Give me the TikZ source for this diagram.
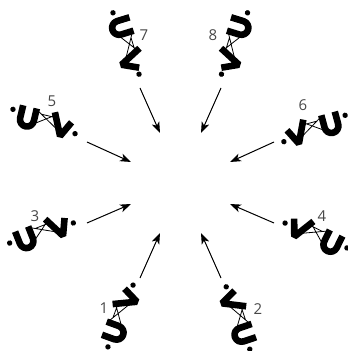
\documentclass[tikz,border=0pt]{standalone}
\usepackage{fontspec}
\setmainfont{Open Sans}
\usetikzlibrary{arrows.meta}
% #1: extra rotation of the letters about the glyph centre
\newcommand\drawglyph[1]{%
  \fill (-33,4.7) circle (2.7);
  \fill (33,-4.7) circle (2.7);
  \begin{scope}[rotate=#1]
    \draw[heavy] (-24,11) -- (-24,-2) arc[start angle=180,end angle=360,radius=7] -- (-10,11);
    \draw[thinline] (-10,10) -- (15,-5) (-10,-5) -- (10,9) (-4,6.5) -- (12,6.5);
    \draw[heavy] (8.5,11.5) -- (19,-10.5) -- (27,5.5);
  \end{scope}}
\begin{document}
\begin{tikzpicture}[x=1pt,y=1pt,
  heavy/.style={line width=6.6pt, line cap=butt, line join=bevel},
  thinline/.style={line width=0.8pt},
  arr/.style={line width=1pt, -{Stealth[length=11pt,width=8pt,inset=3pt]}},
  lab/.style={font=\fontsize{15}{15}\selectfont, text=black!72, inner sep=0pt}]
\useasboundingbox (0,0) rectangle (348,351);

% glyphs
\begin{scope}[shift={(126,307.5)}, rotate=-58.9] \drawglyph{-14} \end{scope}
\begin{scope}[shift={(234.5,307.5)}, rotate=-121.1, yscale=-1] \drawglyph{-14} \end{scope}
\begin{scope}[shift={(44,229.5)}, rotate=-13.3] \drawglyph{0} \end{scope}
\begin{scope}[shift={(314.5,222.5)}, rotate=-164.8, yscale=-1] \drawglyph{0} \end{scope}
\begin{scope}[shift={(41.5,118)}, rotate=25.6] \drawglyph{-4} \end{scope}
\begin{scope}[shift={(316,115.5)}, rotate=150, yscale=-1] \drawglyph{-4} \end{scope}
\begin{scope}[shift={(120.5,35)}, rotate=76] \drawglyph{-6} \end{scope}
\begin{scope}[shift={(238,33)}, rotate=102.6, yscale=-1] \drawglyph{-6} \end{scope}

% labels
\node[lab] (l7) at (144,316) {7};
\node[lab] (l8) at (213,316) {8};
\node[lab] (l5) at (52,250) {5};
\node[lab] (l6) at (303,246) {6};
\node[lab] (l3) at (35,135) {3};
\node[lab] (l4) at (322,135) {4};
\node[lab] (l1) at (104,43) {1};
\node[lab] (l2) at (258,42) {2};

% arrow endpoints
\coordinate (t7) at (140,263); \coordinate (h7) at (160,218);
\coordinate (t8) at (221,263); \coordinate (h8) at (201,218);
\coordinate (t5) at (87,209);  \coordinate (h5) at (131,189);
\coordinate (t6) at (274,209); \coordinate (h6) at (230,189);
\coordinate (t3) at (87,128);  \coordinate (h3) at (131,147);
\coordinate (t4) at (274,128); \coordinate (h4) at (230,147);
\coordinate (t1) at (140,73);  \coordinate (h1) at (160,118);
\coordinate (t2) at (221,73);  \coordinate (h2) at (201,118);

\foreach \i in {1,...,8} { \draw[arr] (t\i) -- (h\i); }
\end{tikzpicture}
\end{document}
